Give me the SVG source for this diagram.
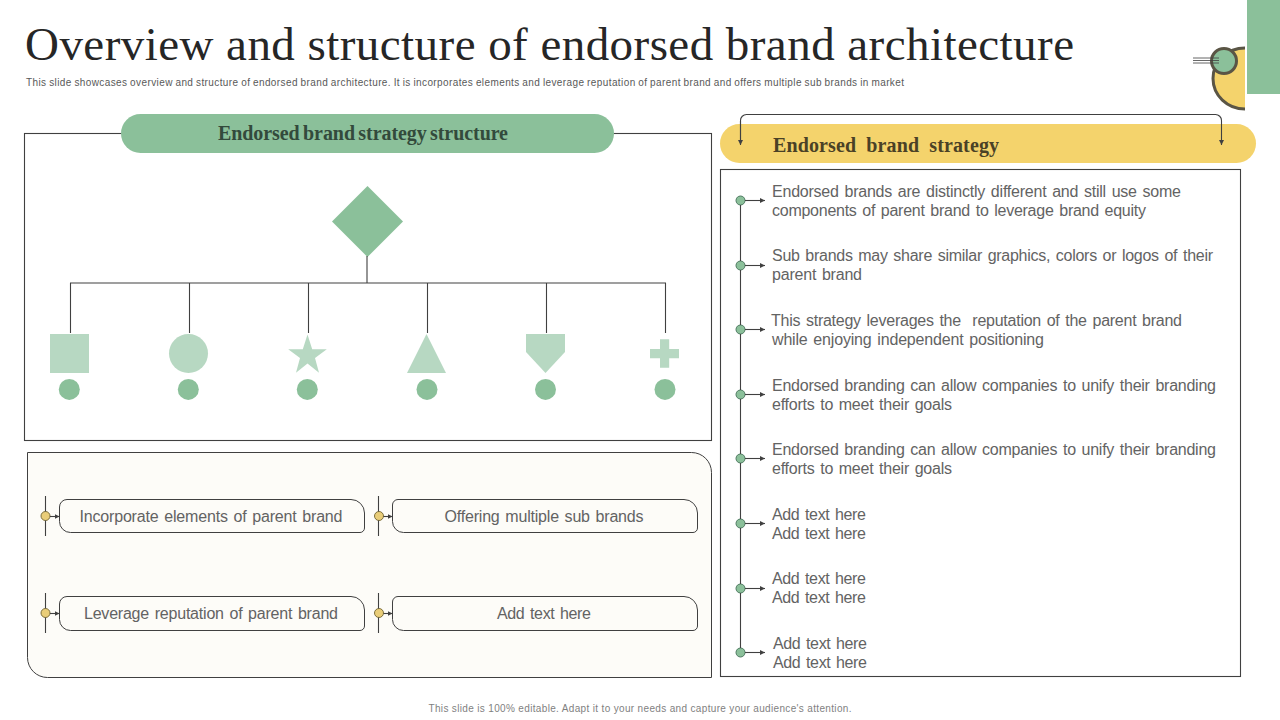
<svg xmlns="http://www.w3.org/2000/svg" width="1280" height="720" viewBox="0 0 1280 720">
<style>
text{font-family:"Liberation Sans",Arial,sans-serif}
.ser{font-family:"Liberation Serif","Times New Roman",serif}
.body{font-size:16px;fill:#636363;word-spacing:1.5px}
.ln{fill:none;stroke:#404040;stroke-width:1.1}
.lt{fill:#b7d8c2}
.md{fill:#8bc09a}
.pill{fill:#fdfcf8;stroke:#404040;stroke-width:1}
.c{text-anchor:middle}
.dy{fill:#e9cd78;stroke:#7d6f3c;stroke-width:1}
.dg{fill:#8bc09a;stroke:#4f7a62;stroke-width:1}
</style>
<defs>
<marker id="ah" markerWidth="6" markerHeight="6" refX="5" refY="2.5" orient="auto" markerUnits="userSpaceOnUse"><path d="M0,0L5,2.5L0,5z" fill="#404040"/></marker>
</defs>
<rect width="1280" height="720" fill="#fff"/>
<g id="header">
<text class="ser" x="25" y="60" font-size="47" fill="#262626" textLength="1049" lengthAdjust="spacing">Overview and structure of endorsed brand architecture</text>
<text x="26" y="86" font-size="10" fill="#595959" word-spacing="-0.5" textLength="878" lengthAdjust="spacing">This slide showcases overview and structure of endorsed brand architecture. It is incorporates elements and leverage reputation of parent brand and offers multiple sub brands in market</text>
</g>
<g id="corner-decoration">
<rect x="1247" y="0" width="33" height="94" fill="#8bc09a"/>
<path d="M1245,48A32,30.500 0 0 0 1245,109Z" fill="#f4d36c"/>
<path d="M1245,48A32,30.500 0 0 0 1245,109" fill="none" stroke="#5a5545" stroke-width="3"/>
<circle cx="1224" cy="61" r="12.500" fill="#8bc09a" stroke="#5a5545" stroke-width="3"/>
<path d="M1193,58H1219M1193,60.500H1219M1193,63H1219" stroke="#404040" stroke-width="0.800" fill="none"/>
</g>
<g id="structure-panel">
<rect x="24.500" y="133.500" width="687" height="307" fill="#fff" stroke="#404040" stroke-width="1.100"/>
<rect x="121" y="114" width="493" height="39" rx="19.500" fill="#8bc09a"/>
<text class="ser c" x="363" y="140" font-size="20" font-weight="bold" fill="#334a3c" word-spacing="-1.5" textLength="290" lengthAdjust="spacing">Endorsed brand strategy structure</text>
</g>
<g id="node-root"><path class="md" d="M367.500,186L403,221.500L367.500,257L332,221.500Z"/></g>
<g id="node-square"><rect class="lt" x="50" y="334" width="39" height="39"/><circle class="md" cx="69.300" cy="389.400" r="10.500"/></g>
<g id="node-circle"><circle class="lt" cx="188.500" cy="353.500" r="19.500"/><circle class="md" cx="188.300" cy="389.400" r="10.500"/></g>
<g id="node-star"><path class="lt" d="M307.500,334.500L312.200,349.200H326.800L315,358L319,372.800L307.500,363.600L296,372.800L300,358L288.200,349.200H302.800Z"/><circle class="md" cx="307.300" cy="389.400" r="10.500"/></g>
<g id="node-triangle"><path class="lt" d="M426.500,334L446,373H407Z"/><circle class="md" cx="427" cy="389.400" r="10.500"/></g>
<g id="node-pentagon"><path class="lt" d="M526,334H565V352L545.500,373L526,352Z"/><circle class="md" cx="545.500" cy="389.400" r="10.500"/></g>
<g id="node-plus"><path class="lt" d="M660,339.300H669.200V349H679V358.300H669.200V367.800H660V358.300H650V349H660Z"/><circle class="md" cx="665" cy="389.400" r="10.500"/></g>
<g id="benefits-panel">
<path d="M27.500,452.500H691.500A20,20 0 0 1 711.500,472.500V677.500H47.500A20,20 0 0 1 27.500,657.500Z" fill="#fdfcf8" stroke="#404040" stroke-width="1"/>
</g>
<g id="benefit-1">
<circle class="dy" cx="45.500" cy="516" r="4.500"/>
<path class="pill" d="M67,499.500H351A13.500,13.500 0 0 1 364.500,513V528A4.500,4.500 0 0 1 360,532.500H70.500A11,11 0 0 1 59.500,521.500V507A7.500,7.500 0 0 1 67,499.500Z"/>
<text class="body c" x="211" y="522" textLength="263" lengthAdjust="spacing">Incorporate elements of parent brand</text>
</g>
<g id="benefit-2">
<circle class="dy" cx="379" cy="516" r="4.500"/>
<path class="pill" d="M398,499.500H684A13.500,13.500 0 0 1 697.500,513V528A4.500,4.500 0 0 1 693,532.500H403.500A11,11 0 0 1 392.500,521.500V505A5.500,5.500 0 0 1 398,499.500Z"/>
<text class="body c" x="544" y="522" textLength="199" lengthAdjust="spacing">Offering multiple sub brands</text>
</g>
<g id="benefit-3">
<circle class="dy" cx="45.500" cy="613" r="4.500"/>
<path class="pill" d="M67,596.500H351A13.500,13.500 0 0 1 364.500,610V626A4.500,4.500 0 0 1 360,630.500H70.500A11,11 0 0 1 59.500,619.500V604A7.500,7.500 0 0 1 67,596.500Z"/>
<text class="body c" x="211" y="619" textLength="254" lengthAdjust="spacing">Leverage reputation of parent brand</text>
</g>
<g id="benefit-4">
<circle class="dy" cx="379" cy="613" r="4.500"/>
<path class="pill" d="M398,596.500H684A13.500,13.500 0 0 1 697.500,610V626A4.500,4.500 0 0 1 693,630.500H403.500A11,11 0 0 1 392.500,619.500V602A5.500,5.500 0 0 1 398,596.500Z"/>
<text class="body c" x="544" y="619" textLength="94" lengthAdjust="spacing">Add text here</text>
</g>
<g id="strategy-header">
<rect x="720" y="124" width="536" height="39" rx="19.500" fill="#f4d36c"/>
<text class="ser" x="773" y="152" font-size="20" font-weight="bold" fill="#4a4126" word-spacing="5" textLength="226" lengthAdjust="spacing">Endorsed brand strategy</text>
</g>
<g id="strategy-list">
<rect x="720.500" y="169.500" width="520" height="507" fill="none" stroke="#404040" stroke-width="1.100"/>
<g class="dg"><circle cx="740.500" cy="200.500" r="4.500"/><circle cx="740.500" cy="265.500" r="4.500"/><circle cx="740.500" cy="329.500" r="4.500"/><circle cx="740.500" cy="394.500" r="4.500"/><circle cx="740.500" cy="458.500" r="4.500"/><circle cx="740.500" cy="523.500" r="4.500"/><circle cx="740.500" cy="588.500" r="4.500"/><circle cx="740.500" cy="652.500" r="4.500"/></g>
<text class="body"><tspan x="772" y="197" textLength="409">Endorsed brands are distinctly different and still use some</tspan><tspan x="772" y="216" textLength="374">components of parent brand to leverage brand equity</tspan></text>
<text class="body"><tspan x="772" y="261" textLength="441">Sub brands may share similar graphics, colors or logos of their</tspan><tspan x="772" y="280" textLength="90">parent brand</tspan></text>
<text class="body"><tspan x="771" y="326" textLength="411" xml:space="preserve">This strategy leverages the  reputation of the parent brand</tspan><tspan x="772" y="345" textLength="272">while enjoying independent positioning</tspan></text>
<text class="body"><tspan x="772" y="391" textLength="444">Endorsed branding can allow companies to unify their branding</tspan><tspan x="772" y="410" textLength="180">efforts to meet their goals</tspan></text>
<text class="body"><tspan x="772" y="455" textLength="444">Endorsed branding can allow companies to unify their branding</tspan><tspan x="772" y="474" textLength="180">efforts to meet their goals</tspan></text>
<text class="body"><tspan x="772" y="520" textLength="94">Add text here</tspan><tspan x="772" y="539" textLength="94">Add text here</tspan></text>
<text class="body"><tspan x="772" y="584" textLength="94">Add text here</tspan><tspan x="772" y="603" textLength="94">Add text here</tspan></text>
<text class="body"><tspan x="773" y="649" textLength="94">Add text here</tspan><tspan x="773" y="668" textLength="94">Add text here</tspan></text>
</g>
<g id="footer"><text class="c" x="640" y="712" font-size="10" fill="#7f7f7f" textLength="423" lengthAdjust="spacing">This slide is 100% editable. Adapt it to your needs and capture your audience's attention.</text></g>
<g id="connectors">
<path class="ln" d="M367,256V283M70.500,333V283H665.500V333M189.500,283V333M308.500,283V333M427.500,283V333M546.500,283V333"/>
<path class="ln" marker-end="url(#ah)" d="M740.500,144V120.500A6,6 0 0 1 746.500,114.500H1215.500A6,6 0 0 1 1221.500,120.500V145"/>
<path class="ln" marker-end="url(#ah)" d="M740.500,121V145"/>
<path class="ln" d="M740.500,205V261M740.500,270V325M740.500,334V390M740.500,399V454M740.500,463V519M740.500,528V584M740.500,593V648"/>
<path class="ln" marker-end="url(#ah)" d="M745,200.500H765"/>
<path class="ln" marker-end="url(#ah)" d="M745,265.500H765"/>
<path class="ln" marker-end="url(#ah)" d="M745,329.500H765"/>
<path class="ln" marker-end="url(#ah)" d="M745,394.500H765"/>
<path class="ln" marker-end="url(#ah)" d="M745,458.500H765"/>
<path class="ln" marker-end="url(#ah)" d="M745,523.500H765"/>
<path class="ln" marker-end="url(#ah)" d="M745,588.500H765"/>
<path class="ln" marker-end="url(#ah)" d="M745,652.500H765"/>
<path class="ln" d="M45.500,496V511.500M45.500,520.500V536M378.500,496V511.500M378.500,520.500V536M45.500,593V608.500M45.500,617.500V633M378.500,593V608.500M378.500,617.500V633"/>
<path class="ln" marker-end="url(#ah)" d="M50,516.500H59.500"/>
<path class="ln" marker-end="url(#ah)" d="M383.500,516.500H392.500"/>
<path class="ln" marker-end="url(#ah)" d="M50,613.500H59.500"/>
<path class="ln" marker-end="url(#ah)" d="M383.500,613.500H392.500"/>
</g>
</svg>
